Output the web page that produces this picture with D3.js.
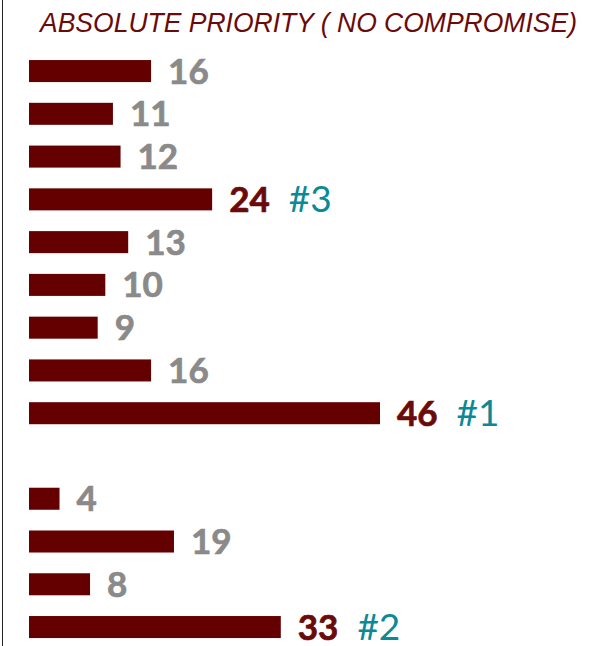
<!DOCTYPE html>
<html>
<head>
<meta charset="utf-8">
<script src="https://cdn.jsdelivr.net/npm/d3@7"></script>
<style>
  html, body { margin: 0; padding: 0; background: #fff; }
  svg { display: block; }
</style>
</head>
<body>
<div id="chart"></div>
<script>
// Share of respondents naming each item an absolute priority (null = spacer row)
const values = [16, 11, 12, 24, 13, 10, 9, 16, 46, null, 4, 19, 8, 33];
// Top-three ranking shown next to the leading items
const ranks = ["", "", "", "#3", "", "", "", "", "#1", "", "", "", "", "#2"];
const title = "ABSOLUTE PRIORITY ( NO COMPROMISE)";

const width = 608, height = 646;
const barLeft = 29;

const svg = d3.select("#chart").append("svg")
  .attr("width", width)
  .attr("height", height);

// left frame edge
svg.append("line")
  .attr("x1", 2.5).attr("x2", 2.5)
  .attr("y1", 0).attr("y2", height)
  .attr("stroke", "#222").attr("stroke-width", 1);

svg.append("text")
  .attr("x", 40)
  .attr("y", 32)
  .attr("textLength", 537)
  .attr("lengthAdjust", "spacingAndGlyphs")
  .style("font-family", "'Liberation Sans Narrow', 'Liberation Sans', Arial, sans-serif")
  .style("font-style", "italic")
  .style("font-size", "27px")
  .attr("fill", "#6a0a0a")
  .text(title);

const x = d3.scaleLinear()
  .domain([0, d3.max(values)])
  .range([0, 351]);

const y = d3.scaleBand()
  .domain(d3.range(values.length))
  .range([39.3, 658.8])
  .paddingInner(0.485)
  .paddingOuter(0.485);

const rows = values
  .map((v, i) => ({ v, i, rank: ranks[i] }))
  .filter(d => d.v !== null);

const g = svg.append("g");

g.selectAll("rect.bar")
  .data(rows)
  .join("rect")
  .attr("class", "bar")
  .attr("x", barLeft)
  .attr("y", d => y(d.i))
  .attr("width", d => x(d.v))
  .attr("height", y.bandwidth())
  .attr("fill", "#650000");

const labels = g.selectAll("text.val")
  .data(rows)
  .join("text")
  .attr("class", "val")
  .attr("x", d => barLeft + x(d.v) + 17)
  .attr("y", d => y(d.i) + y.bandwidth() / 2 + 12.5)
  .style("font-family", "Lato, 'Open Sans', sans-serif")
  .style("font-weight", "bold")
  .style("font-size", "35px")
  .attr("fill", d => d.rank ? "#6b0a0a" : "#8a8a8a")
  .attr("stroke", d => d.rank ? "#6b0a0a" : "#8a8a8a")
  .attr("stroke-width", 0.7)
  .text(d => d.v);

labels.each(function (d) {
  if (!d.rank) return;
  const w = this.getComputedTextLength();
  g.append("text")
    .attr("class", "rank")
    .attr("x", barLeft + x(d.v) + 17 + w + 19)
    .attr("y", y(d.i) + y.bandwidth() / 2 + 13)
    .style("font-family", "Lato, 'Open Sans', sans-serif")
    .style("font-size", "37px")
    .attr("fill", "#0b8996")
    .text(d.rank);
});
</script>
</body>
</html>
